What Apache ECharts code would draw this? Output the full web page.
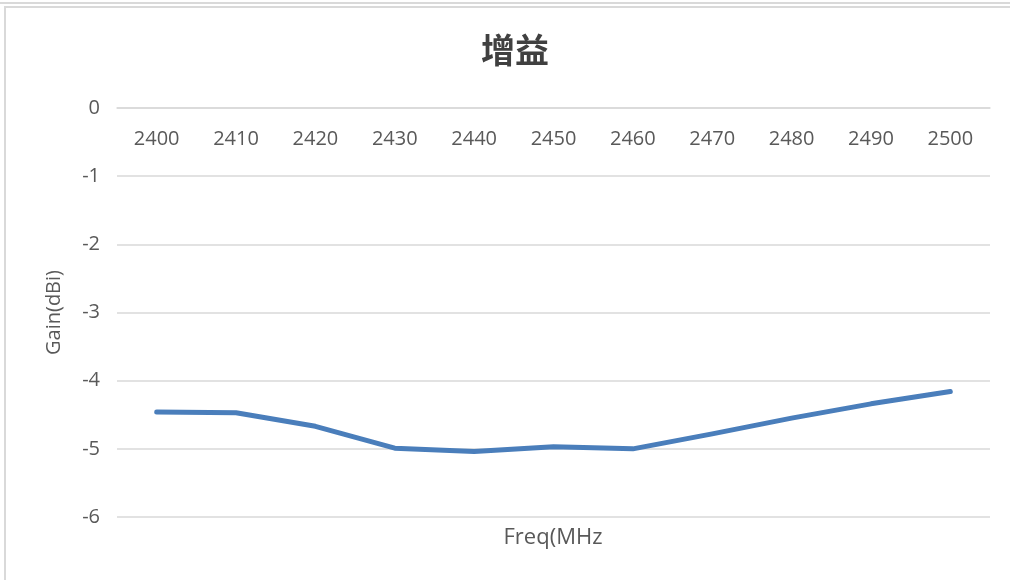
<!DOCTYPE html>
<html>
<head>
<meta charset="utf-8">
<script src="https://cdn.jsdelivr.net/npm/echarts@6/dist/echarts.min.js"></script>
<style>html,body{margin:0;padding:0;background:#fff}#c{width:1010px;height:580px}</style>
</head>
<body>
<div id="c"></div>
<script>
const categories = ['2400','2410','2420','2430','2440','2450','2460','2470','2480','2490','2500'];
const gain = [-4.46, -4.47, -4.67, -4.99, -5.04, -4.97, -5.0, -4.78, -4.55, -4.34, -4.16];
const yTicks = { min: -6, max: 0, interval: 1 };
const titleText = '增益';
const xName = 'Freq(MHz';
const yName = 'Gain(dBi)';

const font = '"Open Sans", "Noto Sans", "Liberation Sans", sans-serif';
const chart = echarts.init(document.getElementById('c'), null, {renderer: 'canvas'});
chart.setOption({
  animation: false,
  backgroundColor: '#fff',
  title: {
    text: titleText, left: 476, top: 28,
    textStyle: { fontFamily: '"Noto Sans CJK SC", sans-serif', fontSize: 34, fontWeight: 'bold', color: '#404040' }
  },
  grid: { left: 117, right: 20, top: 108, bottom: 63 },
  xAxis: {
    type: 'category', data: categories, position: 'top', boundaryGap: true,
    axisLine: { show: true, lineStyle: { color: '#d9d9d9', width: 1.5 } },
    axisTick: { show: false },
    axisLabel: { inside: true, margin: 21, color: '#595959', fontSize: 20, fontFamily: font }
  },
  yAxis: {
    type: 'value', min: yTicks.min, max: yTicks.max, interval: yTicks.interval,
    name: yName, nameLocation: 'middle', nameGap: 53,
    nameTextStyle: { color: '#595959', fontSize: 20, fontFamily: font },
    axisLine: { show: false }, axisTick: { show: false },
    axisLabel: { margin: 17, color: '#595959', fontSize: 20, fontFamily: font },
    splitLine: { lineStyle: { color: '#d9d9d9', width: 1.5 } }
  },
  graphic: [
    { type: 'line', shape: { x1: 0, y1: 3, x2: 1010, y2: 3 }, style: { stroke: '#d9d9d9', lineWidth: 2 } },
    { type: 'rect', shape: { x: 5, y: 7, width: 1100, height: 700 }, style: { fill: 'none', stroke: '#d9d9d9', lineWidth: 2 } },
    { type: 'text', x: 553, y: 538, style: { text: xName, textAlign: 'center', textVerticalAlign: 'middle', fill: '#595959', fontSize: 22, fontFamily: font } }
  ],
  series: [{
    type: 'line', data: gain, showSymbol: false, symbol: 'none', smooth: false,
    lineStyle: { color: '#4a7ebb', width: 5, cap: 'round', join: 'round' }
  }]
});
</script>
</body>
</html>
